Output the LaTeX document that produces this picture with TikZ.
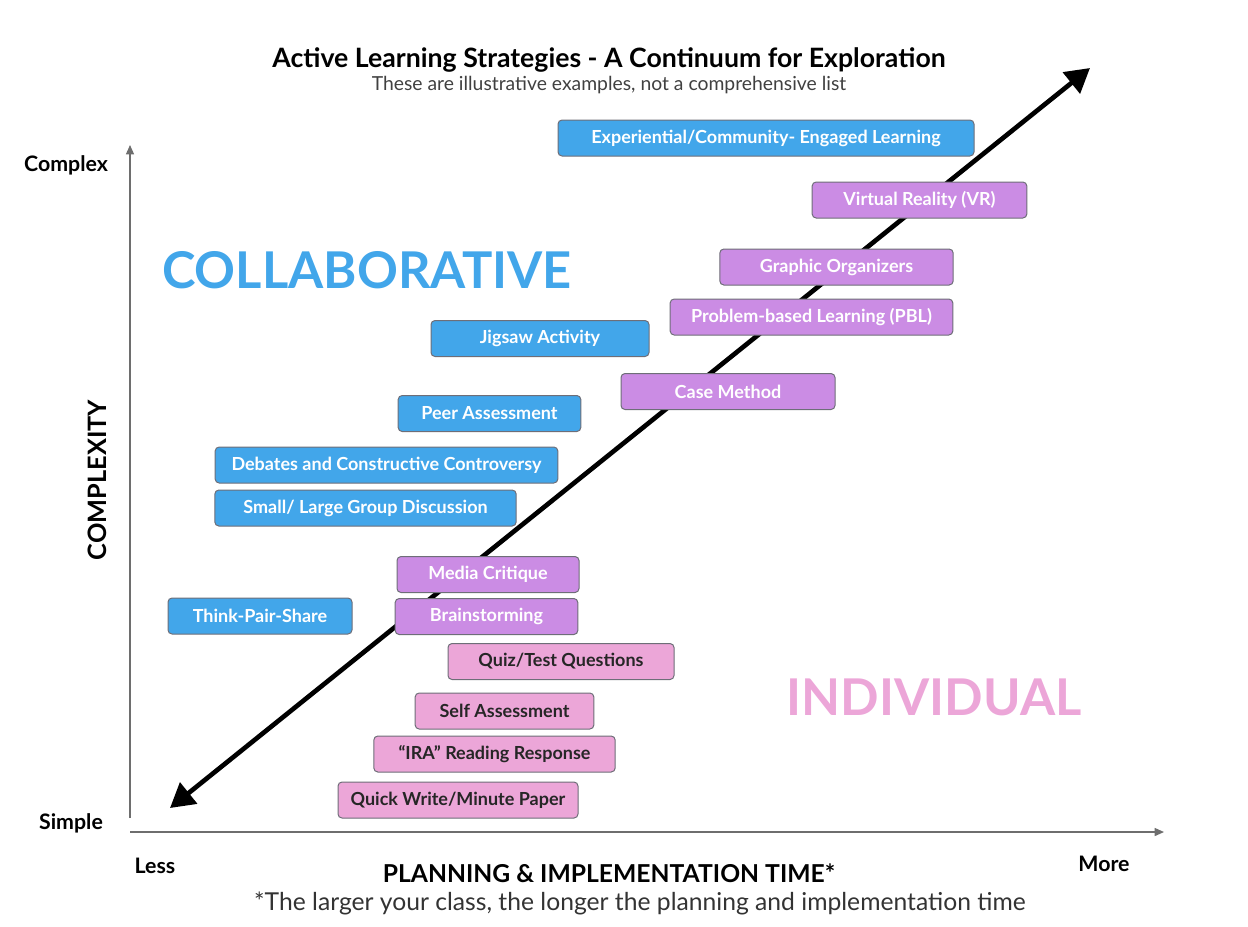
\documentclass[tikz,border=0pt]{standalone}
\usepackage{fontspec}
\setmainfont{Lato}
\usetikzlibrary{arrows.meta}

\definecolor{collabblue}{RGB}{66,166,234}
\definecolor{indivpurple}{RGB}{203,140,228}
\definecolor{indivpink}{RGB}{236,166,216}
\definecolor{boxline}{RGB}{110,110,120}
\definecolor{axisgray}{RGB}{110,110,110}

\tikzset{every picture/.style={line width=0.75pt}}
\tikzset{
  stratbox/.style={draw=boxline, rounded corners=3pt, minimum height=27pt, inner sep=0pt,
    font=\fontsize{13.5}{15}\selectfont\bfseries},
  bluebox/.style={stratbox, fill=collabblue, text=white},
  purplebox/.style={stratbox, fill=indivpurple, text=white},
  pinkbox/.style={stratbox, fill=indivpink, text=black!85},
  axislabel/.style={font=\fontsize{16}{18}\selectfont\bfseries, inner sep=0.75pt}
}

\begin{document}
\begin{tikzpicture}[x=0.75pt,y=0.75pt,yscale=-1,xscale=1]
\useasboundingbox (0,0) rectangle (1248,926);

% Title
\node (title) at (609,60) [font=\fontsize{20}{23}\selectfont\bfseries] {Active Learning Strategies - A Continuum for Exploration};
\node (subtitle) at (609,85) [font=\fontsize{14.5}{17}\selectfont, text=black!75] {These are illustrative examples, not a comprehensive list};

%Shape: Axes
\coordinate (origin) at (130,832);
\coordinate (ytop) at (130,145);
\coordinate (xend) at (1164,832);
\draw [axisgray, line width=1pt, -{Triangle[length=7pt,width=6pt]}] (origin|-0,818) -- (ytop);
\draw [axisgray, line width=1pt, -{Triangle[length=7pt,width=6pt]}] (origin) -- (xend);

%Shape: Diagonal continuum arrow
\coordinate (lowend) at (170,808);
\coordinate (highend) at (1090,68);
\draw [line width=3.5pt, {Triangle[length=18pt,width=20pt]}-{Triangle[length=18pt,width=20pt]}] (lowend) -- (highend);

% Axis labels
\node (complex) at (66,165) [axislabel] {Complex};
\node (simple) at (71,823) [axislabel] {Simple};
\node (less) at (155,866) [axislabel] {Less};
\node (more) at (1104,864) [axislabel] {More};
\node (complexity) at (97,480) [rotate=90, font=\fontsize{19}{21}\selectfont\bfseries] {COMPLEXITY};
\node (planning) at (609,873) [font=\fontsize{18.5}{21}\selectfont\bfseries] {PLANNING \& IMPLEMENTATION TIME*};
\node (footnote) at (640,903) [font=\fontsize{18.5}{21}\selectfont, text=black!80] {*The larger your class, the longer the planning and implementation time};

% Group labels
\node (collab) at (367,270) [font=\fontsize{38}{40}\selectfont\bfseries, text=collabblue] {COLLABORATIVE};
\node (indiv) at (934,697) [font=\fontsize{38}{40}\selectfont\bfseries, text=indivpink] {INDIVIDUAL};

% Strategy boxes
\node (exper) at (766,138) [bluebox, minimum width=312pt] {Experiential/Community- Engaged Learning};
\node (vr) at (919.5,200) [purplebox, minimum width=161pt] {Virtual Reality (VR)};
\node (graphic) at (836.5,267) [purplebox, minimum width=175pt] {Graphic Organizers};
\node (pbl) at (811.5,317) [purplebox, minimum width=212pt] {Problem-based Learning (PBL)};
\node (jigsaw) at (540,338.5) [bluebox, minimum width=163.5pt] {Jigsaw Activity};
\node (casem) at (728,391.5) [purplebox, minimum width=160.5pt] {Case Method};
\node (peer) at (489.5,413.5) [bluebox, minimum width=137pt] {Peer Assessment};
\node (debates) at (386.5,465) [bluebox, minimum width=257pt] {Debates and Constructive Controversy};
\node (smallg) at (365.5,508) [bluebox, minimum width=226pt] {Small/ Large Group Discussion};
\node (media) at (488,574.5) [purplebox, minimum width=136.5pt] {Media Critique};
\node (brainst) at (486.5,616.5) [purplebox, minimum width=137pt] {Brainstorming};
\node (tps) at (260,616) [bluebox, minimum width=138pt] {Think-Pair-Share};
\node (quiz) at (561,661.5) [pinkbox, minimum width=169.5pt] {Quiz/Test Questions};
\node (selfa) at (504.5,711) [pinkbox, minimum width=134pt] {Self Assessment};
\node (ira) at (494.5,754) [pinkbox, minimum width=181pt] {“IRA" Reading Response};
\node (quick) at (458,800) [pinkbox, minimum width=180pt] {Quick Write/Minute Paper};

\end{tikzpicture}
\end{document}
